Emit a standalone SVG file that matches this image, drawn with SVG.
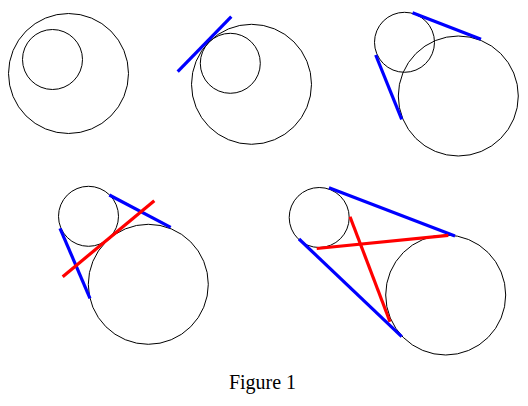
<svg xmlns="http://www.w3.org/2000/svg" width="528" height="406" viewBox="0 0 528 406">
<style>
.c{fill:none;stroke:#000;stroke-width:1}
.b{stroke:#0000ff;stroke-width:3.2;fill:none}
.r{stroke:#ff0000;stroke-width:3.2;fill:none}
.t{font-family:"Liberation Serif","Times New Roman",serif;font-size:20px;fill:#000}
</style>
<rect width="528" height="406" fill="#fff"/>
<g id="fig1">
<circle class="c" cx="68.5" cy="73.5" r="60"/>
<circle class="c" cx="52.5" cy="59.5" r="30"/>
</g>
<g id="fig2">
<circle class="c" cx="251.5" cy="84.3" r="60"/>
<circle class="c" cx="230.3" cy="63.3" r="30"/>
</g>
<g id="fig3">
<circle class="c" cx="404.5" cy="42.3" r="30"/>
<circle class="c" cx="458.3" cy="96" r="60"/>
</g>
<g id="fig4">
<circle class="c" cx="88.5" cy="216.3" r="30"/>
<circle class="c" cx="148.3" cy="284.3" r="60"/>
</g>
<g id="fig5">
<circle class="c" cx="319.2" cy="217.5" r="30"/>
<circle class="c" cx="445.7" cy="295" r="60"/>
</g>
<g id="connectors">
<line class="b" x1="177.7" y1="71.7" x2="231.3" y2="16.7"/>
<line class="b" x1="412.5" y1="12.7" x2="481" y2="39.3"/>
<line class="b" x1="375.7" y1="55" x2="401.7" y2="119.3"/>
<line class="b" x1="109.3" y1="195" x2="170.7" y2="227.3"/>
<line class="b" x1="60" y1="228.3" x2="90" y2="298.3"/>
<line class="r" x1="62.7" y1="276.7" x2="154.3" y2="200.7"/>
<line class="b" x1="329" y1="187.7" x2="455" y2="235.9"/>
<line class="b" x1="299" y1="239" x2="401.7" y2="336.7"/>
<line class="r" x1="316.7" y1="248.5" x2="448.3" y2="235.3"/>
<line class="r" x1="350" y1="216.7" x2="390" y2="321.7"/>
</g>
<text class="t" x="262.5" y="389" text-anchor="middle">Figure 1</text>
</svg>
